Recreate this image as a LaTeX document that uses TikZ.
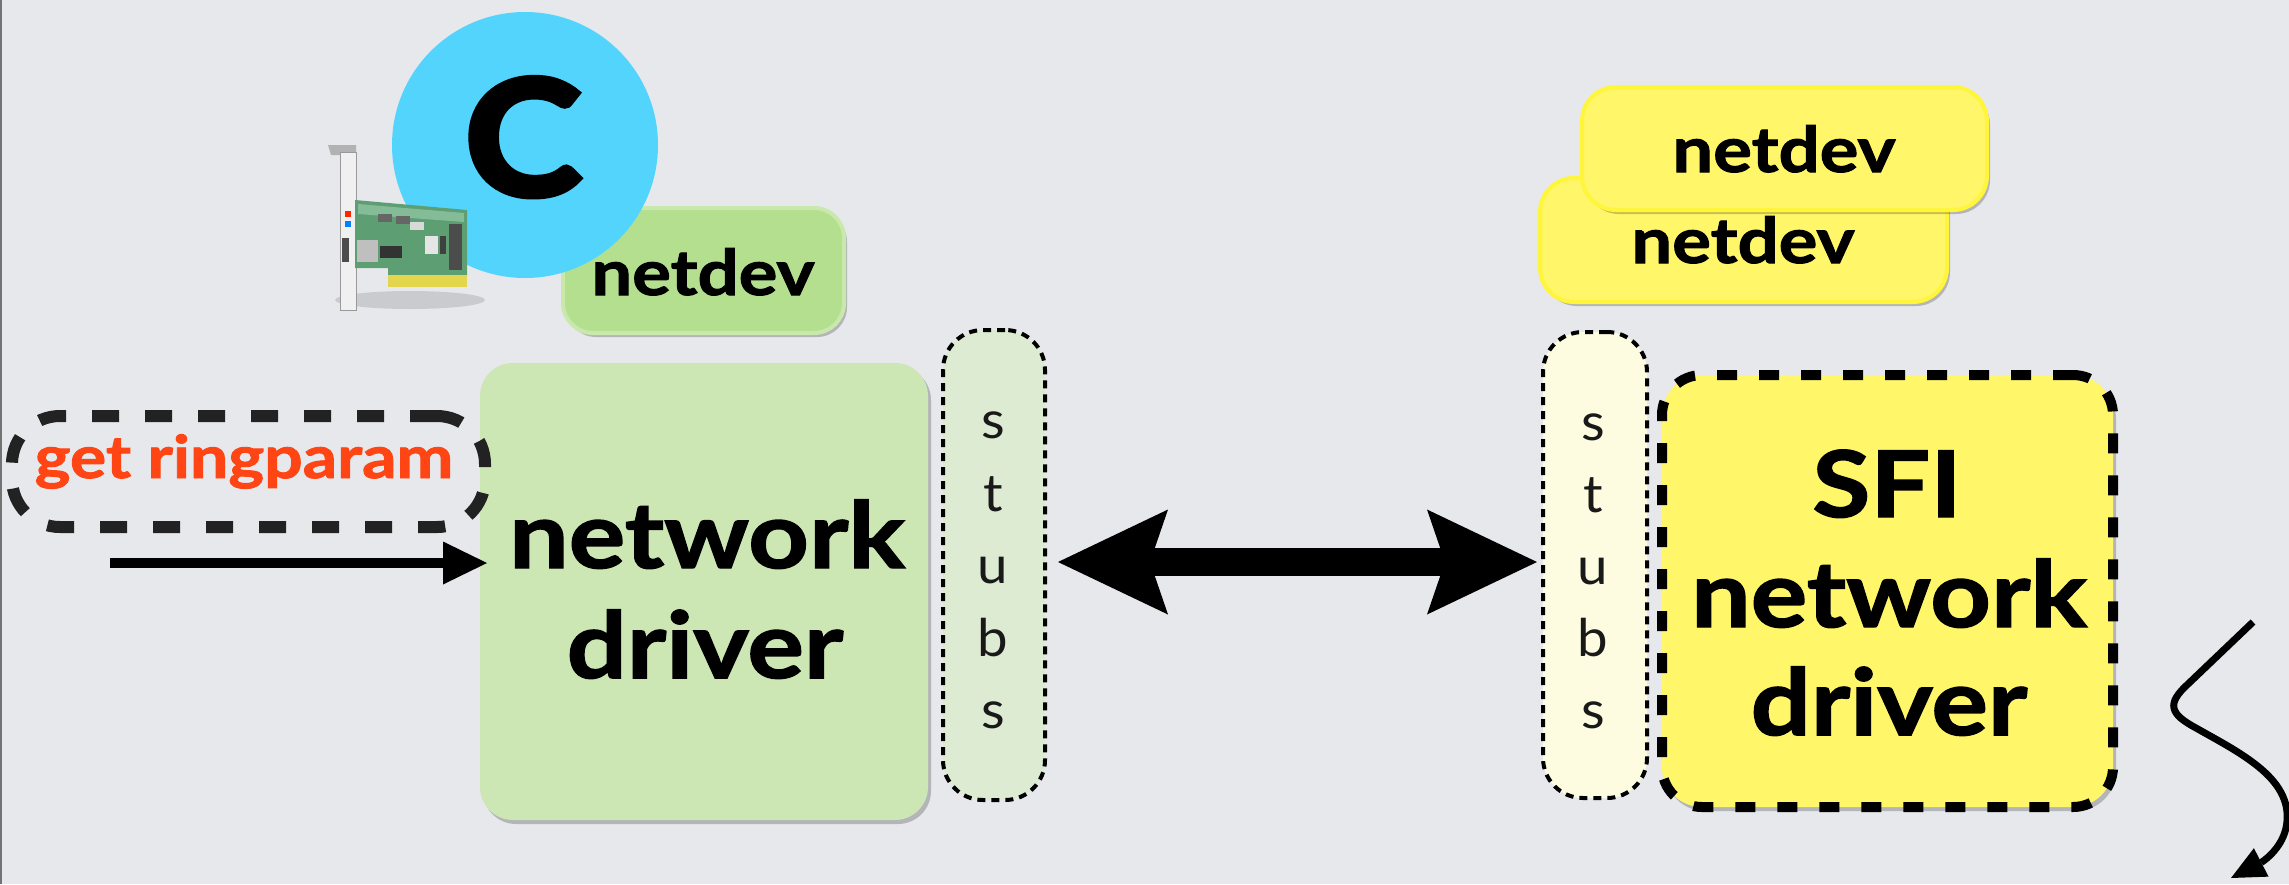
\documentclass[tikz,border=0pt]{standalone}
\usepackage{fontspec}
\setmainfont{Lato}
\newfontfamily\gill{Lato}[FakeStretch=1.15,FakeBold=1.6]
\newfontfamily\gillheavy{Lato}[FakeStretch=1.1,FakeBold=4]
\newfontfamily\gilllight{Lato}[FakeStretch=1.05]
\usetikzlibrary{arrows.meta,shadows}

\definecolor{bgcol}{HTML}{E6E8EC}
\definecolor{drvgreen}{HTML}{CCE7B4}
\definecolor{netgreen}{HTML}{B3DF8F}
\definecolor{netgreenrim}{HTML}{C9E9AC}
\definecolor{stubgreen}{HTML}{DDEBD3}
\definecolor{ballblue}{HTML}{52D4FD}
\definecolor{sfiyellow}{HTML}{FFF66A}
\definecolor{yellowrim}{HTML}{FFF53A}
\definecolor{stubyellow}{HTML}{FDFCE1}
\definecolor{callred}{HTML}{FF4514}
\definecolor{dashdark}{HTML}{222222}
\definecolor{pcbgreen}{HTML}{5E9E73}
\definecolor{pcblight}{HTML}{84BC98}
\definecolor{goldpins}{HTML}{E3D54C}

\begin{document}
\begin{tikzpicture}[x=1pt,y=-1pt,
  softshadow/.style={drop shadow={shadow xshift=3pt,shadow yshift=-4pt,opacity=0.22,fill=black}},
  plainbox/.style={rectangle,inner sep=0pt,outer sep=0pt},
  drvbox/.style={plainbox,fill=drvgreen,rounded corners=33pt,softshadow},
  netbox/.style={plainbox,fill=netgreen,draw=netgreenrim,line width=4pt,rounded corners=30pt,softshadow},
  ydevbox/.style={plainbox,fill=sfiyellow,draw=yellowrim,line width=4pt,rounded corners=34pt,softshadow},
  stubbox/.style={plainbox,draw=black,line width=4pt,dash pattern=on 8pt off 6pt,rounded corners=40pt},
  sfibox/.style={plainbox,fill=sfiyellow,draw=black,line width=10pt,dash pattern=on 20pt off 22pt,rounded corners=40pt},
  callbox/.style={plainbox,draw=dashdark,line width=12pt,dash pattern=on 27pt off 26pt,rounded corners=48pt},
  bigtxt/.style={inner sep=0pt,anchor=base,font=\gill\bfseries\fontsize{92}{110}\selectfont},
  devtxt/.style={inner sep=0pt,anchor=base,font=\gill\bfseries\fontsize{63}{70}\selectfont},
  stubtxt/.style={inner sep=0pt,anchor=base,font=\gilllight\fontsize{52}{56}\selectfont,text=black!90},
  inarrow/.style={line width=10pt,-{Triangle[length=44pt 0,width=43pt 0,line width=0pt 0]}},
  dblarrow/.style={line width=28pt,
    {Stealth[length=110pt 0,width=105pt 0,inset=18pt 0,line width=0pt 0]}-{Stealth[length=110pt 0,width=105pt 0,inset=18pt 0,line width=0pt 0]}},
  wigarrow/.style={line width=7pt,-{Triangle[length=34pt 0,width=32pt 0,line width=0pt 0]}}
]
\useasboundingbox (0,0) rectangle (2289,884);
\fill[bgcol] (0,0) rectangle (2289,884);
\draw[line width=2pt,black!55] (1,0) -- (1,884);

% ---- left side: ordinary driver ----
\node[netbox,minimum width=281pt,minimum height=125pt] (netA) at (703.5,270.5) {};
\node[devtxt] (netAtxt) at (703,295) {netdev};

% the "C" badge sits over the netdev box
\node[circle,fill=ballblue,minimum size=266pt,inner sep=0pt] (cball) at (525,145) {};
\node[inner sep=0pt,anchor=base,font=\gillheavy\bfseries\fontsize{160}{160}\selectfont] (cmark) at (523,195) {C};

% network card icon
\fill[black,opacity=0.12] (410,300) ellipse [x radius=75pt,y radius=9pt];
\fill[black!30] (328,145) -- (356,145) -- (356,155) -- (331,155) -- cycle;
\fill[black!6] (340,152) rectangle (356,310);
\draw[black!40,line width=1pt] (340,152) rectangle (356,310);
\fill[pcbgreen] (355,200) -- (467,210) -- (467,276) -- (388,276) -- (388,268) -- (355,268) -- cycle;
\fill[pcblight] (358,204) -- (464,213) -- (464,222) -- (358,214) -- cycle;
\fill[goldpins] (388,275) rectangle (467,287);
\fill[black!25] (357,240) rectangle (378,262);
\fill[black!80] (380,246) rectangle (402,258);
\fill[white!90!black] (425,236) rectangle (438,254);
\fill[black!75] (440,236) rectangle (446,254);
\fill[black!70] (449,224) rectangle (462,270);
\fill[black!60] (378,214) rectangle (392,222);
\fill[black!60] (396,216) rectangle (410,224);
\fill[black!15] (410,222) rectangle (424,230);
\fill[black!70] (342,238) rectangle (349,262);
\fill[red!70!orange] (345,211) rectangle (351,217);
\fill[blue!50!cyan] (345,221) rectangle (351,227);

\node[drvbox,minimum width=448pt,minimum height=457pt] (drvA) at (704,591.5) {};
\node[bigtxt] (drvAtxt1) at (707,568) {network};
\node[bigtxt] (drvAtxt2) at (705,678) {driver};

\node[stubbox,fill=stubgreen,minimum width=102pt,minimum height=470pt] (stubA) at (994,565) {};
\foreach \ch/\yy [count=\i] in {s/438,t/511,u/583,b/656,s/728}
  \node[stubtxt] (stubAl\i) at (993,\yy) {\ch};

% incoming call
\node[callbox,minimum width=473pt,minimum height=111pt] (call) at (248.5,471.5) {};
\node[inner sep=0pt,anchor=base,text=callred,font=\gill\bfseries\fontsize{59}{64}\selectfont] (calltxt) at (244,478) {get ringparam};
\coordinate (inS) at (110,563);
\draw[inarrow] (inS) -- ([xshift=7pt]inS -| drvA.west);

% ---- right side: SFI driver ----
\node[ydevbox,minimum width=407pt,minimum height=124pt] (netB1) at (1743.5,240) {};
\node[devtxt] (netB1txt) at (1743,263) {netdev};
\node[ydevbox,minimum width=405pt,minimum height=123pt] (netB2) at (1784.5,148.5) {};
\node[devtxt] (netB2txt) at (1784,172) {netdev};

\node[stubbox,fill=stubyellow,minimum width=104pt,minimum height=466pt] (stubB) at (1595,565) {};
\foreach \ch/\yy [count=\i] in {s/440,t/512,u/584,b/656,s/728}
  \node[stubtxt] (stubBl\i) at (1593,\yy) {\ch};

\node[sfibox,minimum width=451pt,minimum height=432pt,softshadow] (sfi) at (1887.5,591) {};
\node[bigtxt] (sfitxt1) at (1887,517) {SFI};
\node[bigtxt] (sfitxt2) at (1889,627) {network};
\node[bigtxt] (sfitxt3) at (1889,735) {driver};

% cross-domain call
\draw[dblarrow,shorten <=13pt,shorten >=6pt] ([yshift=3pt]stubA.east) -- ([yshift=3pt]stubB.west);

% crash going down
\coordinate (wigS) at (2253,622);
\coordinate (wigE) at (2231,878);
\draw[wigarrow] (wigS) -- (2188,684)
  .. controls (2166,704) and (2170,714) .. (2196,728)
  .. controls (2242,754) and (2296,780) .. (2286,828)
  .. controls (2281,850) and (2262,862) .. (wigE);
\end{tikzpicture}
\end{document}
